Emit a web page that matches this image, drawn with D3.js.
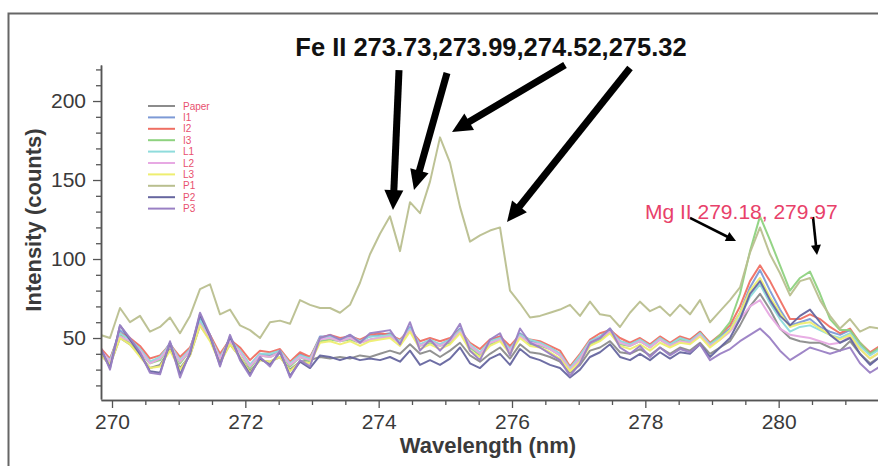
<!DOCTYPE html>
<html><head><meta charset="utf-8">
<script src="https://cdn.jsdelivr.net/npm/d3@7/dist/d3.min.js"></script>
<style>
html,body{margin:0;padding:0;background:#fff;}
svg{display:block;font-family:"Liberation Sans",Arial,Helvetica,sans-serif;}
</style></head>
<body><svg id="chart" width="878" height="466"></svg>
<script>
// ---------- data ----------
const wavelengths = [269.82,269.97,270.12,270.27,270.42,270.57,270.72,270.87,271.02,271.17,271.32,271.47,271.62,271.77,271.92,272.07,272.22,272.37,272.52,272.67,272.82,272.97,273.12,273.27,273.42,273.57,273.72,273.87,274.02,274.17,274.32,274.47,274.62,274.77,274.92,275.07,275.22,275.37,275.52,275.67,275.82,275.97,276.12,276.27,276.42,276.57,276.72,276.87,277.02,277.17,277.32,277.47,277.62,277.77,277.92,278.07,278.22,278.37,278.52,278.67,278.82,278.97,279.12,279.27,279.42,279.57,279.72,279.87,280.02,280.17,280.32,280.47,280.62,280.77,280.92,281.07,281.22,281.37,281.52];

const paper = [40,33,50,46,39,31,33,43,31,39,58,49,35,46,38,29,36,35,38,30,35,36,38,37,38,37,39,38,40,42,40,46,40,42,38,42,47,39,35,40,44,37,46,41,40,38,35,28,33,42,44,48,41,40,43,39,44,40,44,42,47,40,44,48,58,70,78,68,56,50,48,47,47,44,42,48,40,34,38];
const i1 = [43,36,55,49,43,35,37,47,35,43,63,52,38,50,42,33,40,39,42,33,40,37,51,51,49,52,48,51,52,53,48,57,46,48,46,49,56,45,40,48,51,43,53,48,47,44,40,31,38,48,51,56,48,46,49,45,50,46,50,48,54,46,51,56,66,82,93,80,68,58,60,62,57,54,52,55,46,40,44];
const i2 = [44,37,53,50,45,37,39,46,38,44,60,52,40,49,44,36,42,41,43,35,41,38,50,52,50,51,49,52,53,52,49,55,48,50,48,50,55,47,43,49,51,45,52,49,48,45,42,32,40,49,53,55,50,47,50,46,51,47,51,49,54,47,52,58,70,86,96,86,74,62,62,65,62,57,53,56,47,41,45];
const i3 = [41,35,52,47,41,34,36,45,34,42,60,50,37,48,41,31,39,38,41,32,38,35,48,49,48,49,47,49,50,51,47,55,45,47,45,47,54,44,39,46,49,42,52,46,45,43,39,30,37,46,49,54,46,45,48,44,49,45,49,47,53,46,52,60,78,105,127,112,96,80,88,92,78,62,55,55,47,40,44];
const l1 = [42,36,53,49,43,35,38,46,36,43,61,51,38,49,42,33,40,40,42,34,39,37,50,51,49,51,48,51,51,52,48,56,46,49,46,49,55,46,41,48,50,43,52,49,47,44,40,31,39,48,51,55,48,46,49,45,50,46,50,48,53,46,50,55,63,76,84,72,62,54,57,58,55,52,50,53,45,39,43];
const l2 = [43,35,51,48,42,34,37,45,35,42,59,50,37,48,41,32,39,38,41,33,38,36,49,50,48,50,47,49,50,51,47,55,45,48,45,48,54,45,40,47,49,42,51,47,46,43,39,30,37,47,50,54,47,45,48,44,49,45,48,47,52,45,49,54,62,70,74,64,56,52,51,50,48,46,47,51,43,37,41];
const l3 = [40,33,50,46,38,31,32,42,30,39,58,48,34,46,38,28,36,35,38,29,35,34,47,48,46,48,45,48,49,50,45,54,43,46,43,46,53,42,38,45,48,40,50,45,44,41,37,29,35,45,48,53,45,43,46,42,47,44,47,46,51,44,49,55,66,80,88,76,66,57,59,60,56,52,49,52,43,37,41];
const p1 = [52,50,69,60,64,54,57,63,53,64,81,84,65,68,58,55,50,60,61,59,74,71,69,69,66,71,85,103,116,127,105,136,129,149,177,161,133,111,115,118,120,80,72,63,64,66,68,71,64,73,65,64,57,66,73,67,70,64,71,65,74,60,67,74,82,104,120,103,91,77,86,88,74,64,56,62,54,57,56];
const p2 = [44,31,58,49,40,29,28,47,27,40,65,51,33,51,37,27,37,33,41,26,35,31,39,38,36,38,36,37,36,38,35,42,33,36,33,37,44,34,31,37,40,33,43,38,36,33,31,25,30,38,41,46,38,36,40,36,41,37,41,40,46,38,44,50,62,78,86,74,64,58,64,68,60,52,47,50,40,33,38];
const p3 = [45,30,58,50,41,28,27,48,25,41,66,52,32,52,36,26,38,32,42,25,36,32,50,52,49,52,47,53,54,55,46,60,42,49,42,49,59,42,36,49,53,39,56,47,44,40,36,26,34,47,50,56,44,40,45,38,44,39,43,41,46,36,40,43,48,52,56,50,42,36,40,44,42,40,42,44,34,28,32];

const seriesNames = ["Paper","I1","I2","I3","L1","L2","L3","P1","P2","P3"];
const seriesValues = [paper,i1,i2,i3,l1,l2,l3,p1,p2,p3];
const seriesColors = ["#8c8c8c","#7d9ad6","#ef6f63","#8ed27f","#8fdcdc","#e7a9e3","#eeee70","#b9bf8f","#66669f","#9a80c4"];

const xMajorTicks = [270,272,274,276,278,280];
const xMinorTicks = [270.5,271,271.5,272.5,273,273.5,274.5,275,275.5,276.5,277,277.5,278.5,279,279.5,280.5,281];
const yMajorTicks = [50,100,150,200];
const yMinorTicks = [20,30,40,60,70,80,90,110,120,130,140,160,170,180,190,210,220];

const feTitle = "Fe II 273.73,273.99,274.52,275.32";
const mgTitle = "Mg II 279.18, 279.97";
// arrows in data units: [fromWavelength, fromIntensity, toWavelength, toIntensity]
const feArrows = [[274.305,219.6,274.215,131.0],[275.025,217.7,274.53,143.7],[276.795,222.8,275.10,180.4],[277.77,220.9,275.925,123.4]];
const mgArrows = [[278.67,126.0,279.36,111.4],[280.515,126.6,280.575,102.5]];

// ---------- drawing ----------
const svg = d3.select("#chart");
const x = d3.scaleLinear().domain([269.835, 281.49]).range([101, 878]);
const y = d3.scaleLinear().domain([11.4, 222.8]).range([399, 65]);

// frame
svg.append("rect").attr("x",8.5).attr("y",13.5).attr("width",900).attr("height",500)
  .attr("fill","none").attr("stroke","#666").attr("stroke-width",2);

svg.append("clipPath").attr("id","plotclip").append("rect")
  .attr("x",101).attr("y",40).attr("width",777).attr("height",360);

// lines
const line = d3.line().x((d,i)=>x(wavelengths[i])).y(d=>y(d));
const lg = svg.append("g").attr("clip-path","url(#plotclip)");
seriesValues.forEach((vals,k)=>{
  lg.append("path").attr("d",line(vals)).attr("fill","none")
    .attr("stroke",seriesColors[k]).attr("stroke-width",2)
    .attr("stroke-linejoin","round").attr("opacity",0.95);
});

// axes
const axColor="#555", txtColor="#3a3a3a";
function styleAxis(g, fs){
  g.select(".domain").attr("stroke",axColor).attr("stroke-width",1.5);
  g.selectAll(".tick line").attr("stroke",axColor).attr("stroke-width",1.3);
  g.selectAll(".tick text").attr("fill",txtColor).style("font-size",fs);
}
const gx = svg.append("g").attr("transform","translate(0,400)")
  .call(d3.axisBottom(x).tickValues(xMajorTicks).tickSize(8).tickSizeOuter(0).tickPadding(6).tickFormat(d3.format("d")));
styleAxis(gx,"21px");
const gxm = svg.append("g").attr("transform","translate(0,400)")
  .call(d3.axisBottom(x).tickValues(xMinorTicks).tickSize(5).tickSizeOuter(0).tickFormat(""));
styleAxis(gxm,"21px");

const gy = svg.append("g").attr("transform","translate(101,0)")
  .call(d3.axisLeft(y).tickValues(yMajorTicks).tickSize(8).tickSizeOuter(0).tickPadding(7).tickFormat(d3.format("d")));
styleAxis(gy,"21px");
const gym = svg.append("g").attr("transform","translate(101,0)")
  .call(d3.axisLeft(y).tickValues(yMinorTicks).tickSize(5).tickSizeOuter(0).tickFormat(""));
styleAxis(gym,"21px");

// axis titles
svg.append("text").attr("x",488).attr("y",453).attr("text-anchor","middle")
  .attr("fill",txtColor).style("font-size","22px").style("font-weight","bold").text("Wavelength (nm)");
svg.append("text").attr("transform","translate(41,220) rotate(-90)").attr("text-anchor","middle")
  .attr("fill",txtColor).style("font-size","22px").style("font-weight","bold").text("Intensity (counts)");

// legend
const leg = svg.append("g");
seriesNames.forEach((n,k)=>{
  const yy = 106 + k*11.4;
  leg.append("line").attr("x1",148).attr("x2",175).attr("y1",yy).attr("y2",yy)
    .attr("stroke",seriesColors[k]).attr("stroke-width",2);
  leg.append("text").attr("x",183).attr("y",yy+3.5).attr("fill","#e8506e")
    .style("font-size","10px").text(n);
});

// arrows
function arrow(a, w, hl, hw){
  const x1=x(a[0]), y1=y(a[1]), x2=x(a[2]), y2=y(a[3]);
  const dx=x2-x1, dy=y2-y1, L=Math.hypot(dx,dy), ux=dx/L, uy=dy/L;
  const bx=x2-ux*hl, by=y2-uy*hl, px=-uy, py=ux;
  svg.append("line").attr("x1",x1).attr("y1",y1).attr("x2",bx+ux*1).attr("y2",by+uy*1)
    .attr("stroke","#000").attr("stroke-width",w);
  svg.append("polygon").attr("points",[[x2,y2],[bx+px*hw/2,by+py*hw/2],[bx-px*hw/2,by-py*hw/2]].map(p=>p.join(",")).join(" "))
    .attr("fill","#000");
}
feArrows.forEach(a=>arrow(a,7,20,19));
mgArrows.forEach(a=>arrow(a,2.6,10,10));

// annotation texts
svg.append("text").attr("x",491).attr("y",56).attr("text-anchor","middle")
  .attr("fill","#111").style("font-size","25.5px").style("font-weight","bold").text(feTitle);
svg.append("text").attr("x",645).attr("y",219).attr("fill","#e8416a")
  .style("font-size","21px").text(mgTitle);
</script></body></html>
